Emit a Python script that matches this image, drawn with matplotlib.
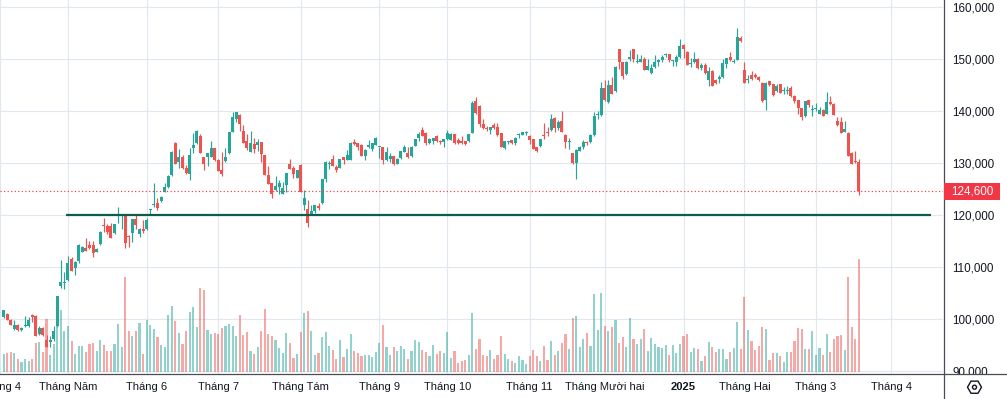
import matplotlib
matplotlib.use("Agg")
import matplotlib.pyplot as plt
import matplotlib.transforms as mtransforms
from matplotlib.patches import Rectangle, RegularPolygon, Circle
from matplotlib.lines import Line2D
from matplotlib.ticker import FuncFormatter
import numpy as np

# ---------------- data (prices in thousand VND) ----------------
open_ = [
    100.3, 101.0, 99.9, 98.0, 98.9, 97.8, 98.6, 98.6, 100.8, 100.5,
    97.1, 98.3, 96.0, 95.5, 96.1, 98.6, 106.3, 106.9, 107.5, 111.5,
    109.9, 111.2, 112.9, 113.7, 114.2, 114.2, 112.9, 114.4, 117.9, 117.8,
    117.9, 116.5, 120.0, 119.8, 120.0, 115.9, 116.5, 119.2, 116.4, 117.4,
    117.4, 120.9, 121.9, 122.3, 122.6, 124.5, 125.3, 127.7, 133.8, 130.1,
    131.2, 129.0, 127.9, 132.8, 133.8, 135.2, 131.2, 131.1, 131.1, 132.8,
    130.6, 128.7, 130.4, 132.0, 136.0, 138.5, 139.2, 136.2, 134.3, 132.2,
    133.7, 133.5, 134.1, 131.5, 127.7, 126.1, 124.8, 125.3, 124.0, 125.8,
    129.9, 129.0, 127.2, 129.6, 121.9, 121.2, 120.0, 120.8, 121.7, 122.4,
    126.9, 129.8, 130.8, 129.3, 129.1, 131.2, 130.6, 130.6, 134.1, 133.8,
    133.5, 131.4, 133.0, 132.6, 133.5, 133.0, 133.0, 130.5, 130.8, 131.3,
    129.9, 130.9, 132.2, 131.9, 131.3, 133.3, 134.8, 136.4, 135.8, 133.8,
    134.2, 135.2, 134.3, 134.1, 134.6, 134.5, 135.5, 134.4, 134.2, 134.2,
    134.2, 135.8, 142.0, 141.0, 137.5, 136.6, 136.3, 137.4, 137.0, 135.7,
    132.8, 134.1, 134.4, 133.9, 135.4, 135.4, 135.8, 135.2, 134.6, 133.0,
    133.2, 135.4, 136.0, 136.3, 138.7, 136.7, 138.1, 135.4, 134.0, 131.9,
    130.0, 132.4, 133.0, 134.1, 134.0, 135.3, 139.3, 139.2, 144.4, 141.7,
    145.0, 143.8, 151.9, 149.4, 147.1, 150.0, 151.9, 149.4, 149.5, 150.0,
    147.9, 147.3, 148.4, 149.4, 149.8, 150.7, 150.9, 149.6, 149.5, 150.3,
    152.7, 151.4, 149.1, 149.4, 150.0, 148.2, 148.9, 145.9, 147.6, 146.0,
    146.1, 146.5, 149.0, 150.4, 149.5, 149.9, 154.0, 147.9, 146.0, 147.0,
    147.0, 146.6, 145.4, 142.2, 145.7, 145.1, 143.8, 145.1, 143.9, 143.9,
    144.4, 142.8, 142.1, 140.5, 139.0, 142.1, 140.1, 140.4, 139.5, 140.2,
    139.5, 141.7, 141.4, 138.1, 137.9, 136.0, 135.7, 131.9, 130.2, 130.2,
]
high = [
    101.8, 101.2, 100.0, 99.8, 99.0, 98.4, 100.6, 100.4, 100.9, 100.8,
    98.6, 98.4, 97.0, 96.8, 98.6, 104.5, 111.4, 109.0, 112.1, 112.0,
    111.1, 114.4, 114.0, 115.6, 115.0, 115.0, 113.6, 116.9, 119.4, 118.3,
    118.5, 118.3, 121.6, 120.0, 120.1, 116.2, 119.3, 120.2, 117.5, 119.0,
    119.5, 121.1, 126.2, 123.2, 123.6, 126.2, 127.6, 132.3, 134.0, 132.6,
    131.6, 129.6, 132.8, 135.8, 136.4, 135.6, 131.2, 132.0, 134.2, 132.9,
    130.8, 132.2, 132.8, 136.0, 139.9, 139.8, 139.4, 137.4, 135.6, 136.2,
    134.9, 134.6, 134.1, 131.5, 129.4, 126.1, 127.5, 126.7, 126.4, 128.0,
    130.7, 129.4, 128.7, 129.8, 124.8, 122.9, 121.9, 122.0, 122.4, 126.9,
    130.3, 130.3, 131.5, 129.6, 130.8, 131.2, 132.5, 134.0, 134.6, 133.9,
    133.6, 132.6, 134.5, 133.9, 135.0, 133.1, 133.1, 133.0, 131.9, 131.4,
    130.9, 132.4, 133.5, 133.0, 133.2, 134.7, 136.0, 137.0, 135.9, 134.8,
    134.9, 135.3, 134.5, 134.7, 136.3, 135.8, 135.6, 134.8, 135.2, 134.3,
    135.6, 142.0, 142.7, 141.1, 138.5, 137.1, 137.0, 137.7, 137.7, 135.8,
    134.3, 134.3, 134.5, 135.0, 135.8, 136.0, 136.1, 135.3, 134.7, 133.1,
    134.7, 137.6, 137.0, 139.5, 138.8, 138.3, 140.0, 135.5, 134.8, 132.0,
    132.6, 133.2, 134.4, 134.2, 135.5, 139.9, 140.0, 145.6, 145.9, 145.9,
    146.5, 148.6, 152.0, 149.5, 149.6, 151.8, 152.0, 151.0, 150.8, 150.3,
    150.0, 149.0, 150.8, 150.0, 150.8, 151.1, 151.0, 149.9, 150.8, 153.9,
    152.8, 151.5, 150.2, 151.4, 150.1, 149.2, 149.2, 148.5, 147.9, 146.2,
    147.0, 150.0, 150.2, 151.4, 150.0, 156.0, 154.4, 149.4, 147.0, 147.6,
    147.4, 146.8, 145.5, 145.5, 145.8, 145.2, 145.1, 145.2, 144.6, 144.9,
    144.8, 143.0, 142.2, 140.6, 142.0, 142.2, 141.1, 141.5, 140.8, 140.3,
    143.7, 142.8, 141.5, 138.9, 138.8, 138.1, 135.9, 132.2, 132.3, 130.8,
]
low = [
    100.2, 99.8, 98.8, 97.8, 97.7, 97.7, 98.5, 98.5, 99.5, 96.7,
    96.9, 96.8, 94.6, 94.7, 95.7, 98.5, 105.9, 105.7, 107.4, 109.2,
    108.5, 110.7, 112.8, 113.0, 113.5, 112.0, 112.8, 114.3, 116.8, 116.4,
    115.5, 116.4, 118.4, 117.4, 113.7, 113.8, 114.9, 117.4, 115.7, 116.5,
    117.2, 120.0, 121.6, 121.0, 122.5, 124.4, 125.2, 127.5, 129.9, 129.0,
    128.9, 127.9, 126.7, 132.0, 133.7, 132.0, 128.7, 129.4, 131.1, 130.3,
    128.4, 127.5, 130.2, 131.8, 136.0, 137.8, 136.2, 133.9, 132.5, 132.2,
    132.0, 132.4, 130.1, 127.7, 126.0, 123.2, 124.7, 124.0, 124.0, 124.5,
    128.9, 127.2, 127.2, 124.5, 121.0, 117.6, 120.0, 120.3, 121.0, 122.1,
    126.4, 128.8, 129.5, 128.3, 129.1, 129.9, 130.6, 130.6, 133.5, 132.5,
    131.3, 130.6, 132.9, 132.3, 133.4, 130.9, 129.9, 130.4, 130.2, 129.7,
    129.8, 130.8, 132.1, 131.0, 131.2, 133.2, 134.3, 135.1, 133.5, 133.7,
    133.6, 134.1, 133.6, 133.0, 134.5, 134.4, 133.6, 133.7, 133.7, 133.5,
    134.1, 135.7, 139.5, 137.0, 136.6, 136.2, 135.5, 136.6, 135.2, 133.0,
    132.7, 133.7, 133.7, 133.5, 134.9, 135.3, 135.4, 133.7, 132.6, 132.2,
    133.1, 134.6, 135.2, 136.1, 135.9, 136.3, 135.9, 132.9, 132.7, 129.9,
    127.0, 132.3, 132.7, 133.4, 133.9, 135.2, 138.5, 139.1, 142.0, 141.6,
    143.2, 143.7, 148.1, 146.1, 147.0, 149.7, 149.4, 149.3, 149.4, 147.8,
    147.8, 147.2, 148.3, 148.7, 149.5, 150.3, 149.5, 148.7, 148.6, 150.2,
    150.1, 148.8, 148.4, 149.3, 148.1, 147.9, 147.2, 144.8, 144.8, 145.1,
    145.4, 146.4, 148.2, 149.7, 149.3, 149.8, 153.3, 145.3, 145.4, 146.0,
    146.4, 145.8, 141.8, 140.2, 144.9, 142.9, 143.6, 143.4, 143.3, 143.3,
    142.7, 141.6, 139.5, 138.3, 138.9, 140.7, 139.0, 140.0, 139.4, 139.0,
    139.4, 141.1, 139.2, 137.1, 135.7, 135.9, 131.3, 129.8, 130.0, 123.8,
]
close = [
    101.7, 99.9, 98.9, 98.9, 97.8, 98.3, 98.8, 99.8, 100.3, 96.8,
    98.3, 96.9, 94.7, 96.0, 97.6, 104.4, 107.1, 107.0, 110.7, 109.3,
    111.0, 114.2, 113.9, 113.1, 113.6, 112.6, 113.5, 116.8, 117.8, 116.8,
    115.6, 118.3, 120.1, 119.85, 114.7, 115.8, 119.2, 118.0, 117.4, 116.9,
    119.0, 121.0, 122.0, 121.3, 123.5, 125.3, 127.5, 132.2, 129.9, 131.1,
    129.0, 128.0, 131.5, 133.5, 136.2, 132.0, 129.8, 132.0, 132.8, 130.5,
    128.5, 127.9, 131.1, 136.0, 138.9, 139.8, 137.5, 133.9, 132.8, 133.9,
    132.6, 134.1, 131.7, 127.7, 126.0, 124.0, 125.6, 126.2, 125.1, 128.0,
    128.9, 127.9, 128.7, 124.5, 123.2, 118.5, 120.8, 122.0, 121.3, 126.9,
    130.1, 129.9, 129.5, 128.7, 130.8, 130.5, 131.5, 133.8, 133.6, 133.1,
    131.4, 132.5, 133.5, 133.8, 134.8, 133.1, 130.6, 132.2, 131.4, 129.9,
    130.8, 132.3, 133.1, 131.1, 133.1, 134.6, 135.5, 135.2, 133.8, 134.7,
    134.8, 134.2, 134.1, 134.6, 135.8, 135.5, 133.8, 133.8, 133.8, 133.6,
    135.5, 141.5, 139.6, 137.5, 136.7, 136.5, 136.9, 136.7, 135.3, 133.1,
    134.2, 134.2, 133.8, 134.9, 135.5, 135.9, 135.95, 134.4, 132.7, 132.4,
    134.6, 135.2, 135.8, 138.4, 136.8, 137.9, 136.0, 134.0, 134.1, 130.0,
    132.5, 133.0, 134.1, 133.9, 135.4, 139.1, 139.4, 144.4, 142.1, 145.0,
    143.3, 148.5, 149.4, 146.8, 149.5, 150.4, 150.0, 149.5, 150.0, 147.9,
    148.7, 148.3, 149.5, 149.9, 150.3, 150.8, 149.8, 149.7, 150.3, 152.5,
    151.9, 148.9, 149.2, 150.0, 148.2, 148.9, 147.3, 147.6, 144.9, 145.4,
    146.6, 149.2, 150.1, 149.8, 149.6, 154.3, 153.4, 145.4, 146.1, 146.2,
    146.5, 145.9, 141.9, 145.4, 145.0, 143.0, 144.9, 143.5, 144.0, 144.0,
    142.8, 141.9, 140.5, 138.9, 141.9, 141.1, 140.2, 140.5, 140.2, 139.1,
    141.7, 141.3, 139.3, 137.4, 135.8, 136.6, 131.4, 129.9, 130.1, 124.6,
]
volume = [
    18, 19, 20, 19, 13, 10, 13, 11, 13, 29,
    30, 20, 53, 17, 28, 76, 62, 41, 46, 31,
    18, 26, 26, 20, 28, 29, 21, 32, 27, 21,
    21, 28, 48, 25, 95, 41, 36, 41, 49, 18,
    52, 47, 43, 35, 27, 25, 57, 66, 51, 39,
    28, 41, 60, 65, 45, 84, 82, 42, 38, 39,
    38, 44, 46, 48, 46, 36, 57, 37, 40, 21,
    18, 25, 41, 63, 38, 36, 32, 24, 19, 39,
    29, 14, 18, 40, 59, 61, 41, 17, 19, 35,
    40, 26, 22, 13, 32, 15, 23, 38, 21, 19,
    16, 17, 17, 15, 20, 29, 47, 25, 17, 25,
    21, 26, 23, 13, 21, 32, 30, 22, 20, 16,
    27, 18, 21, 19, 40, 14, 21, 9, 11, 12,
    17, 59, 23, 33, 17, 16, 22, 13, 17, 36,
    18, 13, 11, 9, 16, 12, 8, 16, 22, 16,
    11, 26, 12, 31, 17, 21, 29, 38, 23, 54,
    56, 25, 33, 39, 26, 78, 42, 79, 46, 41,
    45, 52, 29, 35, 25, 54, 33, 28, 33, 43,
    21, 34, 28, 25, 24, 27, 17, 27, 19, 28,
    36, 38, 20, 24, 23, 11, 16, 30, 25, 20,
    23, 23, 13, 20, 24, 50, 23, 75, 42, 31,
    22, 26, 45, 43, 12, 19, 19, 16, 10, 20,
    20, 31, 44, 43, 23, 23, 41, 17, 24, 17,
    38, 20, 33, 36, 37, 22, 95, 45, 33, 113,
]
bar_index = list(range(1, 241))          # trading-day index (1 = 2 Apr 2024)
month_tick_index = [0, 19, 41, 61, 84, 106, 125, 148, 169, 191, 208, 228, 249]
month_labels = ["Tháng 4", "Tháng Năm", "Tháng 6", "Tháng 7", "Tháng Tám",
                "Tháng 9", "Tháng 10", "Tháng 11", "Tháng Mười hai", "2025",
                "Tháng Hai", "Tháng 3", "Tháng 4"]
price_ticks = [90, 100, 110, 120, 130, 140, 150, 160]
support_level = 120.0
support_span = (18.4, 260.2)

# ---------------- style ----------------
plt.rcParams['font.family'] = ['Liberation Sans', 'DejaVu Sans']
UP, DOWN = '#26a69a', '#ef5350'
GRID = '#e1e7ef'
TXT = '#131722'
BORDER = '#4a4d57'
W, H = 1007, 399

fig = plt.figure(figsize=(W / 100, H / 100), dpi=100)
fig.patch.set_facecolor('white')
rect = [0, (H - 374) / H, 943 / W, 374 / H]
axg = fig.add_axes(rect, zorder=0)
axv = fig.add_axes(rect, zorder=1, sharex=axg)
axc = fig.add_axes(rect, zorder=2, sharex=axg, sharey=axg)
for a in (axv, axc):
    a.set_facecolor('none')
    a.set_axis_off()
for s in axg.spines.values():
    s.set_visible(False)

idx = np.array(bar_index)
o = np.array(open_); h = np.array(high); l = np.array(low); c = np.array(close)
up = c >= o
cols = np.where(up, UP, DOWN)

# volume
axv.bar(idx, volume, width=0.6, color=cols, alpha=0.5, linewidth=0)
axv.set_ylim(-2, 372)

# candles
axc.vlines(idx, l, h, colors=cols, linewidth=0.85)
axc.bar(idx, np.maximum(np.abs(c - o), 0.2), bottom=np.minimum(o, c),
        width=0.84, color=cols, linewidth=0)

axg.set_xlim(0.836, 263.5)
axg.set_ylim(89.42, 161.35)

# grid and ticks
axg.set_xticks(month_tick_index)
axg.set_yticks(price_ticks)
axg.grid(True, color=GRID, linewidth=0.8)
axg.tick_params(axis='x', length=0, labelbottom=False)
axg.yaxis.tick_right()
axg.tick_params(axis='y', length=0, pad=6.5, labelsize=8.4, labelcolor=TXT)
axg.yaxis.set_major_formatter(FuncFormatter(lambda v, _: f"{v * 1000:,.0f}"))
clipbox = mtransforms.TransformedBbox(
    mtransforms.Bbox.from_extents(0, 25.5 / H, 1, 1), fig.transFigure)
for t in axg.yaxis.get_major_ticks():
    t.label2.set_clip_box(clipbox)
    t.label2.set_clip_on(True)

# month labels
tx = mtransforms.blended_transform_factory(axg.transData, fig.transFigure)
for pos, lab in zip(month_tick_index, month_labels):
    axg.text(pos, 12 / H, lab, transform=tx, ha='center', va='center',
             fontsize=8.0, color=TXT, clip_on=False,
             fontweight='bold' if lab == '2025' else 'normal')

# support line
axc.hlines(support_level, support_span[0], support_span[1],
           color='#0b5e4c', linewidth=1.6)

# last price dotted line + label
last_price = close[-1]
axc.axhline(last_price, color='#f23645', linewidth=0.85, linestyle=(0, (1, 2)))
tlab = mtransforms.blended_transform_factory(fig.transFigure, axc.transData)
half = 8.5 / 5.2
axc.add_patch(Rectangle((944 / W, last_price - half), 56 / W, 2 * half,
                        transform=tlab, clip_on=False, facecolor='#f23645',
                        edgecolor='none'))
axc.text(972 / W, last_price, f"{last_price * 1000:,.0f}", transform=tlab,
         ha='center', va='center', color='white', fontsize=8.4, clip_on=False)

# borders (pixel coordinates)
pix = mtransforms.IdentityTransform()
fig.add_artist(Line2D([0, W], [25, 25], transform=pix, color=BORDER, linewidth=0.9))
fig.add_artist(Line2D([943.5, 943.5], [0, H], transform=pix, color=BORDER, linewidth=0.9))

# settings icon
fig.add_artist(RegularPolygon((974.5, 11.8), 6, radius=7, orientation=np.pi / 6,
                              transform=pix, facecolor='none', edgecolor=TXT,
                              linewidth=1.0))
fig.add_artist(Circle((974.5, 11.8), 2.0, transform=pix, facecolor='none',
                      edgecolor=TXT, linewidth=1.0))

fig.savefig('out.png', dpi=100, facecolor='white')
